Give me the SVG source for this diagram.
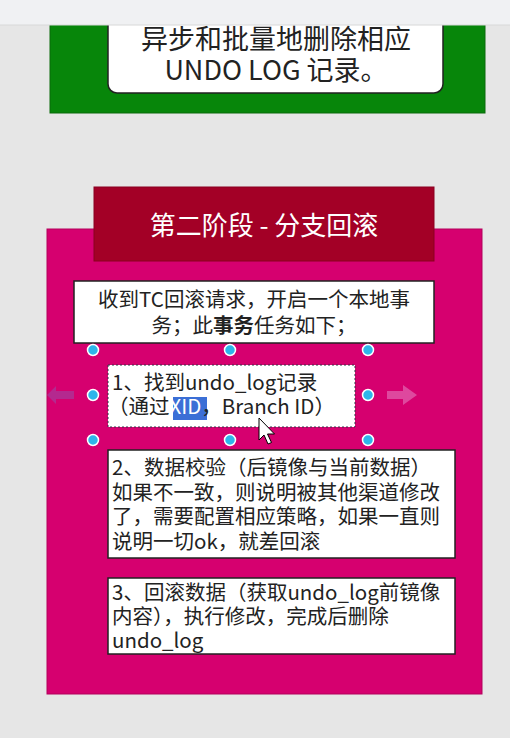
<svg xmlns="http://www.w3.org/2000/svg" width="510" height="738" viewBox="0 0 510 738">
<style>
  .t{font-family:"Noto Sans CJK SC","Liberation Sans",sans-serif;fill:#222}
  .box{fill:#fff;stroke:#222;stroke-width:1.5}
  .h{fill:#2eb5ea;stroke:#fff;stroke-width:1.5}
</style>
<rect x="0" y="0" width="510" height="738" fill="#e6e6e6"/>
<g id="stage1">
  <rect x="50" y="20" width="435" height="93" fill="#07860a" stroke="#0a6a0a" stroke-width="1"/>
  <rect x="108" y="0" width="335" height="93" rx="9" fill="#fff" stroke="#222" stroke-width="1.5"/>
  <text class="t" font-size="27" text-anchor="middle"><tspan x="276" y="49">异步和批量地删除相应</tspan><tspan x="276" y="80">UNDO LOG 记录。</tspan></text>
</g>
<rect x="0" y="0" width="510" height="25" fill="#f0f1f3"/>
<line x1="0" y1="25" x2="510" y2="25" stroke="#d8d8d8" stroke-width="1"/>
<g id="stage2">
  <rect x="47" y="229" width="435" height="465" fill="#d6006f" stroke="#b3005c" stroke-width="1"/>
  <rect x="94" y="187" width="340" height="74" fill="#a30026" stroke="#8a0020" stroke-width="1"/>
  <text x="264" y="235" font-size="26" text-anchor="middle" fill="#fff" font-family="Noto Sans CJK SC,Liberation Sans,sans-serif">第二阶段 - 分支回滚</text>
</g>
<g id="box0">
  <rect class="box" x="74" y="281" width="360" height="62"/>
  <text class="t" font-size="20.5" text-anchor="middle"><tspan x="254" y="307">收到TC回滚请求，开启一个本地事</tspan><tspan x="254" y="333">务；此<tspan font-weight="bold">事务</tspan>任务如下；</tspan></text>
</g>
<g id="connectors">
  <path d="M74 391 L56 391 L56 386 L47 395 L56 404 L56 399 L74 399 Z" fill="#a8379a" opacity="0.75"/>
  <path d="M387 391 L403 391 L403 385 L417 395 L403 405 L403 399 L387 399 Z" fill="#e05aaa" opacity="0.8"/>
</g>
<g id="box1">
  <rect x="108" y="365" width="247" height="62" fill="#fff" stroke="#334" stroke-width="1" stroke-dasharray="2,2"/>
  <rect x="173" y="397" width="34" height="23" fill="#3b6fd6"/>
  <text class="t" font-size="20.5"><tspan x="112" y="390">1、找到undo_log记录</tspan><tspan x="108" y="414">（通过<tspan fill="#fff">XID</tspan>，Branch ID）</tspan></text>
</g>
<g id="handles">
  <circle class="h" cx="93" cy="350" r="5.5"/>
  <circle class="h" cx="230" cy="350" r="5.5"/>
  <circle class="h" cx="368" cy="350" r="5.5"/>
  <circle class="h" cx="93" cy="395" r="5.5"/>
  <circle class="h" cx="368" cy="395" r="5.5"/>
  <circle class="h" cx="93" cy="440" r="5.5"/>
  <circle class="h" cx="230" cy="440" r="5.5"/>
  <circle class="h" cx="368" cy="440" r="5.5"/>
</g>
<g id="cursor">
  <path d="M259 418 L259 440 L264 435 L268 444 L271.5 442.5 L267.5 434 L274.5 434 Z" fill="#fff" stroke="#000" stroke-width="1"/>
</g>
<g id="box2">
  <rect class="box" x="108" y="450" width="347" height="108"/>
  <text class="t" font-size="20.5"><tspan x="112" y="475">2、数据校验（后镜像与当前数据）</tspan><tspan x="112" y="500">如果不一致，则说明被其他渠道修改</tspan><tspan x="112" y="524">了，需要配置相应策略，如果一直则</tspan><tspan x="112" y="549">说明一切ok，就差回滚</tspan></text>
</g>
<g id="box3">
  <rect class="box" x="108" y="578" width="347" height="76"/>
  <text class="t" font-size="20.5"><tspan x="112" y="600">3、回滚数据（获取undo_log前镜像</tspan><tspan x="112" y="624">内容），执行修改，完成后删除</tspan><tspan x="112" y="648">undo_log</tspan></text>
</g>
</svg>
